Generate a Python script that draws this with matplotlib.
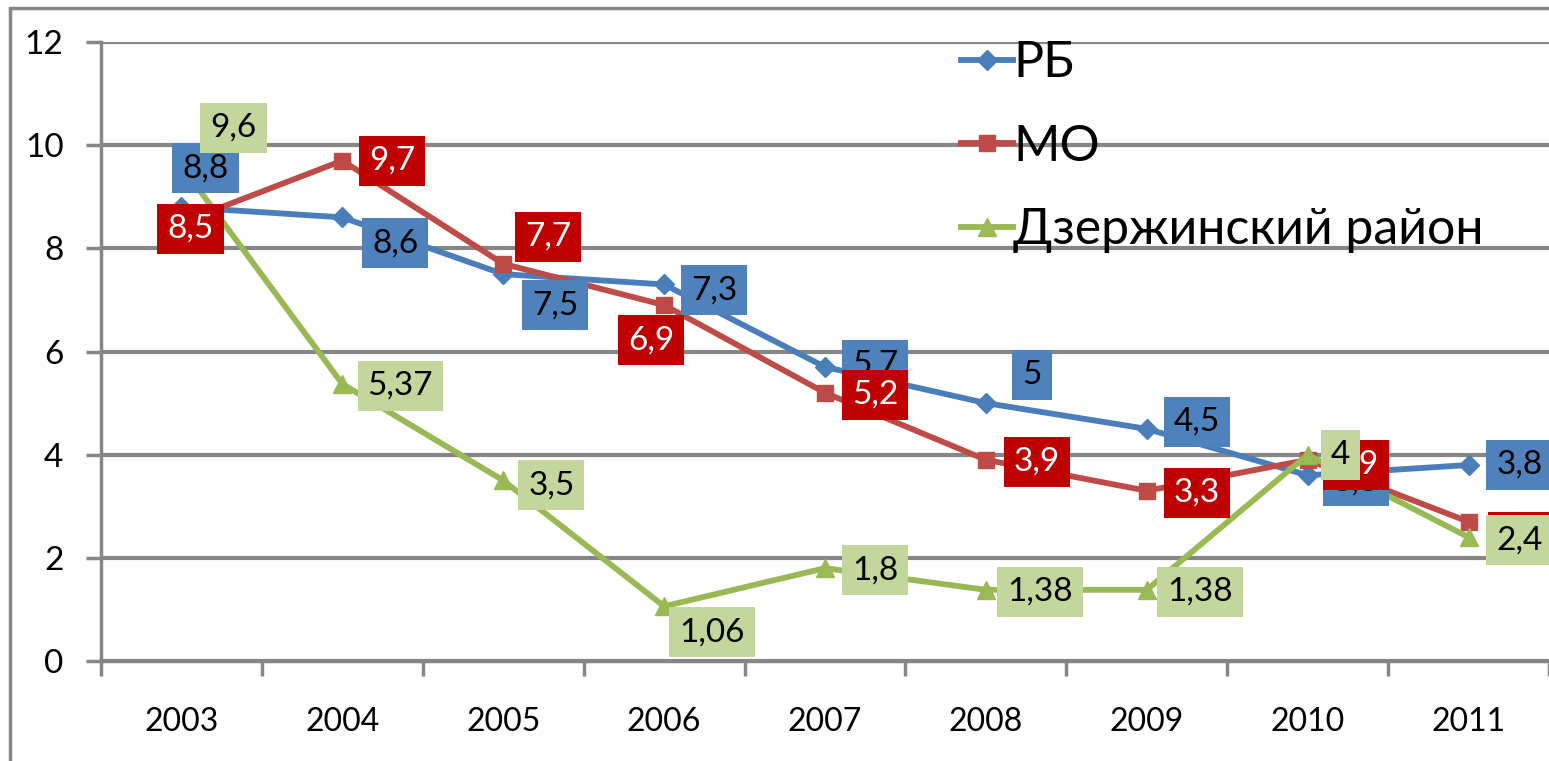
import matplotlib
matplotlib.use('Agg')
from matplotlib import pyplot as plt
from matplotlib.patches import Rectangle

years = ['2003', '2004', '2005', '2006', '2007', '2008', '2009', '2010', '2011']
rb = [8.8, 8.6, 7.5, 7.3, 5.7, 5.0, 4.5, 3.6, 3.8]
mo = [8.5, 9.7, 7.7, 6.9, 5.2, 3.9, 3.3, 3.9, 2.7]
dz = [9.6, 5.37, 3.5, 1.06, 1.8, 1.38, 1.38, 4.0, 2.4]
rb_text = ['8,8', '8,6', '7,5', '7,3', '5,7', '5', '4,5', '3,6', '3,8']
mo_text = ['8,5', '9,7', '7,7', '6,9', '5,2', '3,9', '3,3', '3,9', '2,7']
dz_text = ['9,6', '5,37', '3,5', '1,06', '1,8', '1,38', '1,38', '4', '2,4']
names = ['РБ', 'МО', 'Дзержинский район']

# label offsets in pixels (dx, dy), dy positive = up
rb_off = [(24, 39), (53, -26), (52, -31), (50, -6), (50, 2), (46, 28), (50, 7), (48, -6), (51, 0)]
mo_off = [(9, -6), (50, 0), (45, 27), (-13, -35), (50, -2), (51, -2), (50, -2), (48, -5), (53, -15)]
dz_off = [(52, 38), (58, -2), (48, -5), (48, -26), (50, -2), (54, -2), (53, -2), (33, 0), (51, -3)]

plt.rcParams['font.family'] = ['Lato', 'DejaVu Sans']

fig = plt.figure(figsize=(15.49, 7.61), dpi=100)
fig.patches.append(Rectangle((10 / 1549, -0.1), 1.2, 1 - 8 / 761 + 0.1, transform=fig.transFigure,
                             fill=False, edgecolor='#868686', linewidth=2.5))
ax = fig.add_axes([101 / 1549, 100 / 761, 1 - 101 / 1549, 619 / 761])

x = list(range(len(years)))
series = [
    (rb, rb_text, rb_off, '#4A7EBB', 'D', 10, '#4F81BD', 'black'),
    (mo, mo_text, mo_off, '#BE4B48', 's', 11, '#C00000', 'white'),
    (dz, dz_text, dz_off, '#98B954', '^', 13, '#C3D69B', 'black'),
]
for (vals, texts, offs, col, mk, ms, box, tc), name in zip(series, names):
    ax.plot(x, vals, color=col, marker=mk, markersize=ms, linewidth=4.2, label=name,
            solid_joinstyle='round', clip_on=False, zorder=3)
for (vals, texts, offs, col, mk, ms, box, tc) in series:
    for xi, v, t, (dx, dy) in zip(x, vals, texts, offs):
        ax.annotate(t, (xi, v), xytext=(dx, dy), textcoords='offset pixels',
                    ha='center', va='center', fontsize=24, color=tc, zorder=5,
                    annotation_clip=False,
                    bbox=dict(boxstyle='square,pad=0.3', facecolor=box, edgecolor='none'))

ax.set_xlim(-0.5, 8.5)
ax.set_ylim(0, 12)
ax.set_yticks(range(0, 13, 2))
ax.set_xticks(x)
ax.set_xticklabels(years)
ax.set_xticks([i - 0.5 for i in range(10)], minor=True)
ax.tick_params(axis='x', which='major', length=0, labelsize=23, pad=33)
ax.tick_params(axis='x', which='minor', length=11, width=2.5, color='#868686')
ax.tick_params(axis='y', length=11, width=2.5, color='#868686', labelsize=24, pad=16)
ax.grid(axis='y', color='#868686', linewidth=3)
ax.set_axisbelow(True)
for s in ['top', 'right']:
    ax.spines[s].set_visible(False)
for s in ['left', 'bottom']:
    ax.spines[s].set_color('#868686')
    ax.spines[s].set_linewidth(2.5)

ax.legend(loc='upper left', bbox_to_anchor=(0.58, 1.035), frameon=False, fontsize=36,
          handlelength=1.05, handletextpad=0.0, labelspacing=0.75, borderaxespad=0)

fig.savefig('out.png', dpi=100)
